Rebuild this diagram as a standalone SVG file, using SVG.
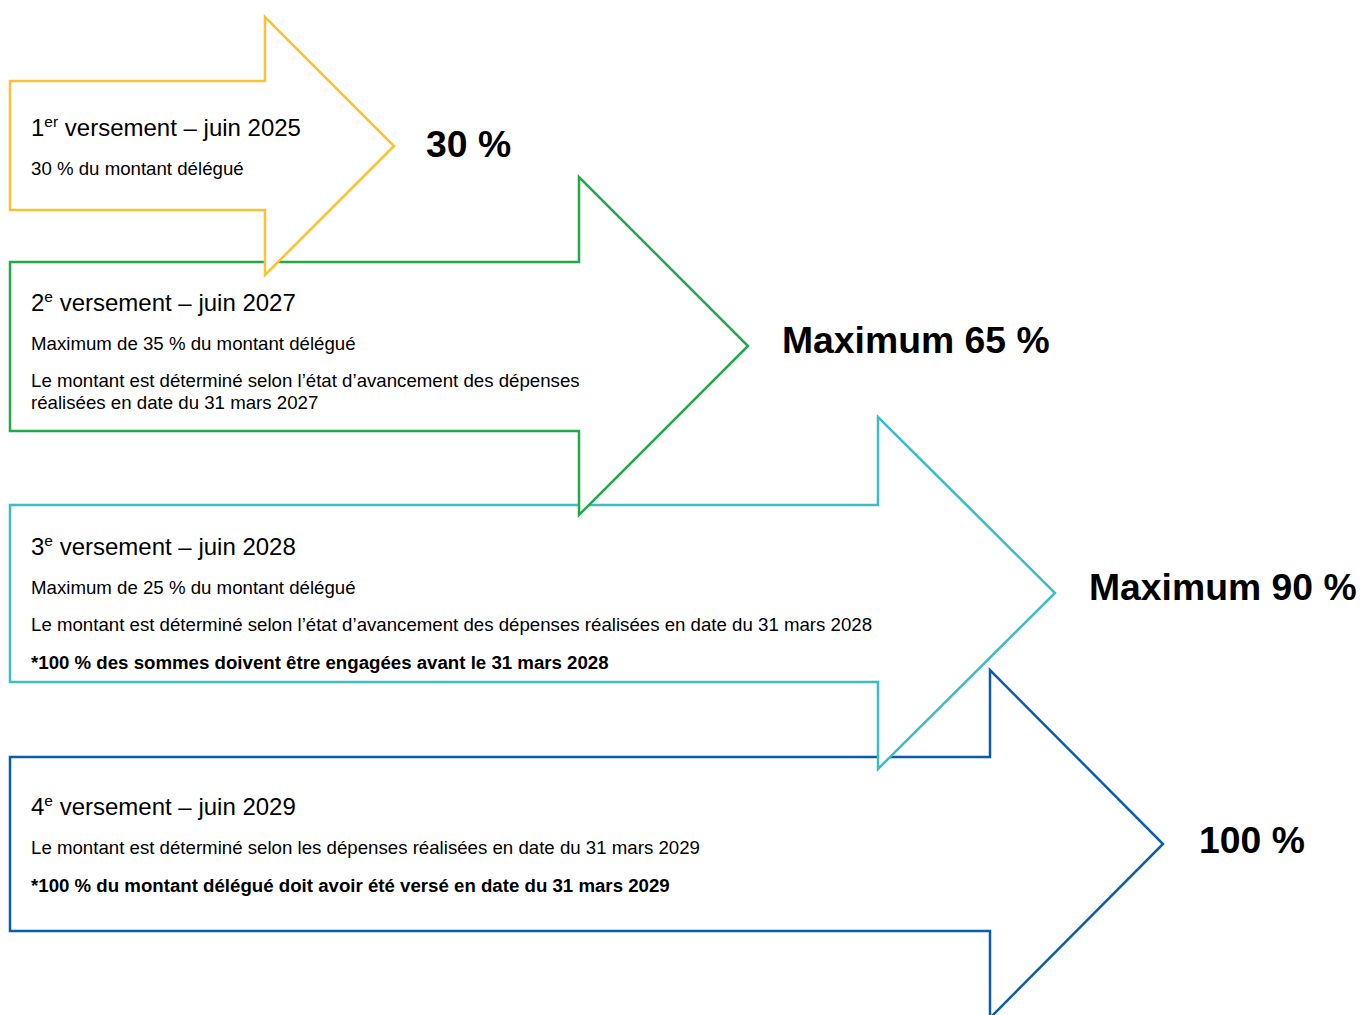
<svg xmlns="http://www.w3.org/2000/svg" width="1360" height="1015" viewBox="0 0 1360 1015">
<style>
.arr{fill:#fff;stroke-width:2.5;stroke-linejoin:miter}
.t{font-family:"Liberation Sans",Arial,sans-serif;fill:#000}
.h{font-size:24px}
.s{font-size:18.67px}
.b{font-weight:bold}
.big{font-size:37.33px;font-weight:bold}
.sup{font-size:15.5px}
</style>
<rect width="1360" height="1015" fill="#fff"/>
<g id="n4">
<path class="arr" stroke="#0B5DA9" d="M10,757 H990 V670 L1163,844 L990,1018 V931 H10 Z"/>
<text class="t h" x="31" y="815">4<tspan class="sup" dy="-9">e</tspan><tspan dy="9"> versement – juin 2029</tspan></text>
<text class="t s" x="31" y="854">Le montant est déterminé selon les dépenses réalisées en date du 31 mars 2029</text>
<text class="t s b" x="31" y="892">*100 % du montant délégué doit avoir été versé en date du 31 mars 2029</text>
<text class="t big" x="1199" y="853">100 %</text>
</g>
<g id="n3">
<path class="arr" stroke="#3DBCC6" d="M10,505 H878 V417 L1055,593 L878,769 V682 H10 Z"/>
<text class="t h" x="31" y="555">3<tspan class="sup" dy="-9">e</tspan><tspan dy="9"> versement – juin 2028</tspan></text>
<text class="t s" x="31" y="594">Maximum de 25 % du montant délégué</text>
<text class="t s" x="31" y="631">Le montant est déterminé selon l’état d’avancement des dépenses réalisées en date du 31 mars 2028</text>
<text class="t s b" x="31" y="669">*100 % des sommes doivent être engagées avant le 31 mars 2028</text>
<text class="t big" x="1089" y="600">Maximum 90 %</text>
</g>
<g id="n2">
<path class="arr" stroke="#23A84A" d="M10,262 H579 V177 L748,346 L579,515 V431 H10 Z"/>
<text class="t h" x="31" y="311">2<tspan class="sup" dy="-9">e</tspan><tspan dy="9"> versement – juin 2027</tspan></text>
<text class="t s" x="31" y="350">Maximum de 35 % du montant délégué</text>
<text class="t s" x="31" y="387">Le montant est déterminé selon l’état d’avancement des dépenses</text>
<text class="t s" x="31" y="409">réalisées en date du 31 mars 2027</text>
<text class="t big" x="782" y="353">Maximum 65 %</text>
</g>
<g id="n1">
<path class="arr" stroke="#FBC234" d="M10,81 H265 V17 L394,146 L265,275 V210 H10 Z"/>
<text class="t h" x="31" y="136">1<tspan class="sup" dy="-9">er</tspan><tspan dy="9"> versement – juin 2025</tspan></text>
<text class="t s" x="31" y="175">30 % du montant délégué</text>
<text class="t big" x="426" y="157">30 %</text>
</g>
<g id="connectors"/>
</svg>
